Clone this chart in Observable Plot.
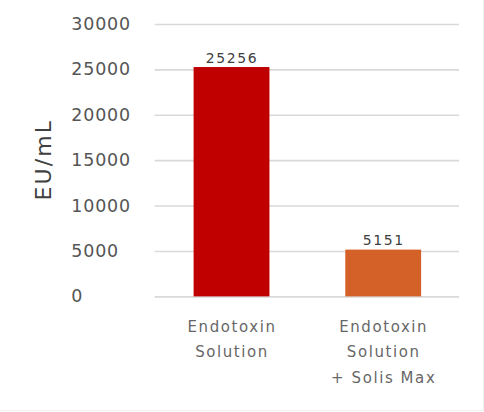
<!DOCTYPE html>
<html>
<head>
<meta charset="utf-8">
<script src="https://cdn.jsdelivr.net/npm/d3@7"></script>
<script src="https://cdn.jsdelivr.net/npm/@observablehq/plot@0.6"></script>
<style>
  html, body { margin: 0; padding: 0; background: #fff; }
  #chart { width: 483px; height: 410px; border-right: 1px solid #f2f2f2; border-bottom: 1px solid #f2f2f2; overflow: hidden; }
  svg { display: block; }
  g[aria-label="x-axis tick label"] text { letter-spacing: 1.6px; }
  g[aria-label="y-axis tick label"] text { letter-spacing: 0.8px; }
  g[aria-label="text"] text { letter-spacing: 1.6px; }
</style>
</head>
<body>
<div id="chart"></div>
<script>
const categories = ["Endotoxin\nSolution", "Endotoxin\nSolution\n+ Solis Max"];
const values = [25256, 5151];
const barColors = ["#c00000", "#d46127"];
const yTicks = [0, 5000, 10000, 15000, 20000, 25000, 30000];
const yLabel = "EU/mL";

const data = categories.map((c, i) => ({category: c, value: values[i], color: barColors[i]}));

const chart = Plot.plot({
  width: 484,
  height: 410,
  marginLeft: 155,
  marginRight: 24,
  marginTop: 24,
  marginBottom: 113,
  style: {fontFamily: "'DejaVu Sans', sans-serif", background: "#fff"},
  x: {domain: categories, paddingInner: 0.5, paddingOuter: 0.25, label: null},
  y: {domain: [0, 30000], label: null},
  marks: [
    Plot.gridY(yTicks, {stroke: "#d9d9d9", strokeOpacity: 1, strokeWidth: 1.6}),
    Plot.barY(data, {x: "category", y: "value", fill: "color"}),
    Plot.text(data, {x: "category", y: "value", text: d => String(d.value), lineAnchor: "bottom", dy: -5, fontSize: 14, fill: "#404040"}),
    Plot.axisY({ticks: yTicks, tickSize: 0, tickPadding: 84, textAnchor: "start", fontSize: 17.5, fill: "#555", tickFormat: d => String(d), label: null}),
    Plot.axisX({tickSize: 0, tickPadding: 17, fontSize: 15, fill: "#666", lineHeight: 1.7, label: null})
  ]
});

// y-axis title
const svg = d3.select(chart);
svg.append("text")
  .attr("transform", "translate(51,160) rotate(-90)")
  .attr("text-anchor", "middle")
  .attr("font-size", 22)
  .attr("fill", "#404040")
  .attr("font-family", "'DejaVu Sans', sans-serif")
  .style("letter-spacing", "2.2px")
  .text(yLabel);

document.getElementById("chart").appendChild(chart);
</script>
</body>
</html>
